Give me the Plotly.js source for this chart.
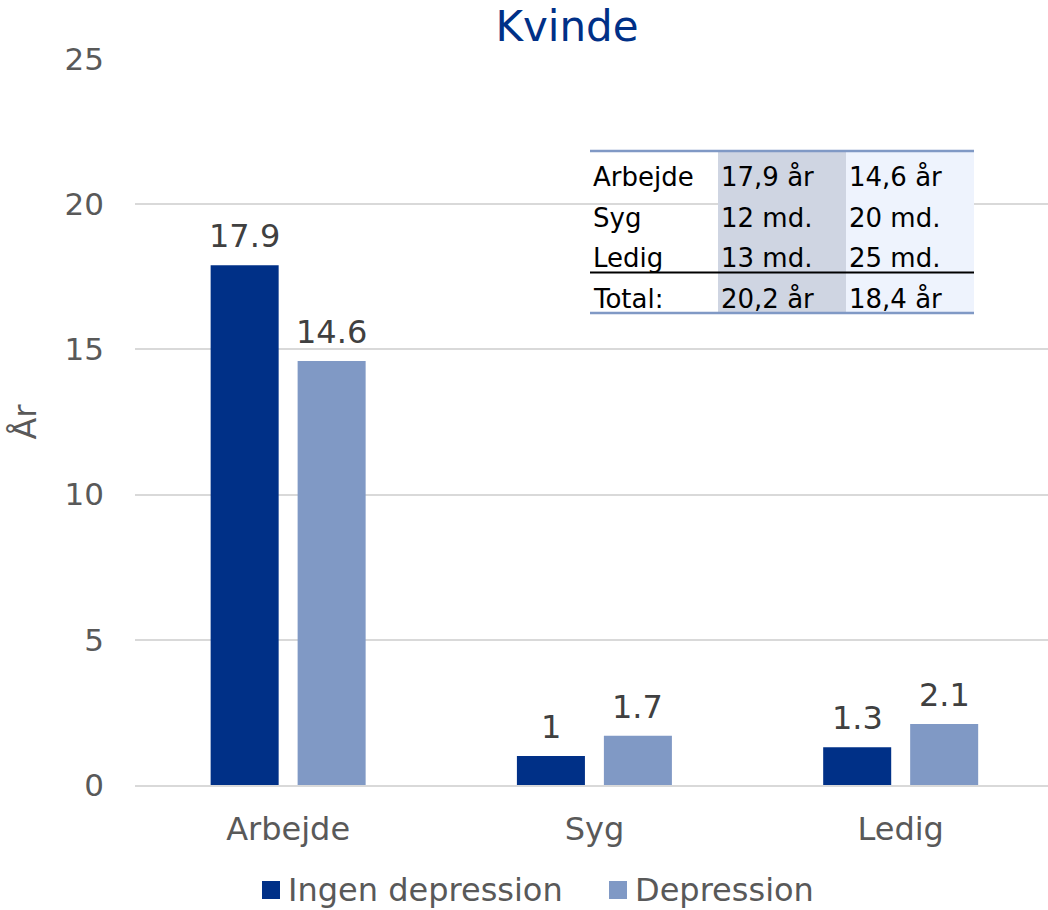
<!DOCTYPE html>
<html>
<head>
<meta charset="utf-8">
<script src="https://cdn.plot.ly/plotly-3.0.1.min.js"></script>
<style>
  body { margin: 0; background: #fff; }
  #chart { width: 1048px; height: 910px; }
</style>
</head>
<body>
<div id="chart"></div>
<script>
const categories = ['Arbejde', 'Syg', 'Ledig'];
const seriesNames = ['Ingen depression', 'Depression'];
const ingenDepression = [17.9, 1, 1.3];
const depression = [14.6, 1.7, 2.1];

// indsat tabel
const tableLabels = ['Arbejde', 'Syg', 'Ledig', 'Total:'];
const tableIngen = ['17,9 år', '12 md.', '13 md.', '20,2 år'];
const tableDepr = ['14,6 år', '20 md.', '25 md.', '18,4 år'];

const FONT = 'Verdana, "DejaVu Sans", sans-serif';
const COLORS = ['#003087', '#8099C5'];
const W = 1048, H = 910;
const M = { l: 135, r: 0, t: 59, b: 125 };

// pixel -> paper
const px = x => (x - M.l) / (W - M.l - M.r);
const py = y => (H - M.b - y) / (H - M.t - M.b);

const series = [ingenDepression, depression];

const data = series.map((vals, i) => ({
    x: categories,
    y: vals,
    name: seriesNames[i],
    type: 'bar',
    marker: { color: COLORS[i] },
    showlegend: false,
    hoverinfo: 'x+y'
}));

// datalabels over søjlerne
const annotations = [];
const barOffset = 43.5;
series.forEach((vals, i) => {
    vals.forEach((v, j) => {
        annotations.push({
            x: categories[j], y: v, xref: 'x', yref: 'y',
            xshift: i === 0 ? -barOffset : barOffset,
            yanchor: 'bottom', yshift: 8,
            text: String(v), showarrow: false,
            font: { family: FONT, size: 32, color: '#404040' }
        });
    });
});

// tabel: kolonner og rækker i pixels
const colX = [590, 718, 846, 974];
const rowY = [151, 191.5, 232, 272.5, 313];

const shapes = [
    { type: 'rect', xref: 'paper', yref: 'paper', x0: px(colX[1]), x1: px(colX[2]), y0: py(rowY[4]), y1: py(rowY[0]),
      fillcolor: '#CFD5E2', line: { width: 0 } },
    { type: 'rect', xref: 'paper', yref: 'paper', x0: px(colX[2]), x1: px(colX[3]), y0: py(rowY[4]), y1: py(rowY[0]),
      fillcolor: '#EEF3FD', line: { width: 0 } },
    { type: 'line', xref: 'paper', yref: 'paper', x0: px(colX[0]), x1: px(colX[3]), y0: py(rowY[0]), y1: py(rowY[0]),
      line: { color: '#8099C5', width: 2.5 } },
    { type: 'line', xref: 'paper', yref: 'paper', x0: px(colX[0]), x1: px(colX[3]), y0: py(rowY[3]), y1: py(rowY[3]),
      line: { color: '#000000', width: 2 } },
    { type: 'line', xref: 'paper', yref: 'paper', x0: px(colX[0]), x1: px(colX[3]), y0: py(rowY[4]), y1: py(rowY[4]),
      line: { color: '#8099C5', width: 2.5 } }
];

[tableLabels, tableIngen, tableDepr].forEach((col, c) => {
    col.forEach((txt, r) => {
        annotations.push({
            xref: 'paper', yref: 'paper',
            x: px(colX[c] + 1), y: py((rowY[r] + rowY[r + 1]) / 2 + 6),
            xanchor: 'left', yanchor: 'middle',
            text: txt, showarrow: false,
            font: { family: FONT, size: 26, color: '#000000' }
        });
    });
});

// egen forklaring (større firkanter end plotly's)
const legendX = [262, 609];
const legendY = 890;
seriesNames.forEach((name, i) => {
    shapes.push({
        type: 'rect', xref: 'paper', yref: 'paper',
        x0: px(legendX[i]), x1: px(legendX[i] + 18),
        y0: py(legendY + 9), y1: py(legendY - 9),
        fillcolor: COLORS[i], line: { width: 0 }
    });
    annotations.push({
        xref: 'paper', yref: 'paper',
        x: px(legendX[i] + 24), y: py(legendY),
        xanchor: 'left', yanchor: 'middle',
        text: name, showarrow: false,
        font: { family: FONT, size: 32, color: '#595959' }
    });
});

const layout = {
    width: W, height: H,
    margin: M,
    paper_bgcolor: '#ffffff',
    plot_bgcolor: '#ffffff',
    font: { family: FONT, color: '#595959', size: 30 },
    title: {
        text: 'Kvinde',
        font: { family: FONT, size: 42, color: '#003087' },
        x: 567 / W, xanchor: 'center',
        y: 1 - 26 / H, yanchor: 'middle'
    },
    barmode: 'group',
    bargap: 0.432,
    bargroupgap: 0.218,
    showlegend: false,
    xaxis: {
        range: [-0.5, 2.481],
        showline: true, linecolor: '#D9D9D9', linewidth: 1.5,
        ticks: '', showgrid: false,
        tickfont: { family: FONT, size: 32, color: '#595959' },
        ticklabelstandoff: 15
    },
    yaxis: {
        range: [0, 25], dtick: 5,
        showgrid: true, gridcolor: '#D9D9D9', gridwidth: 1.5,
        zeroline: false, showline: false, ticks: '',
        tickfont: { family: FONT, size: 31, color: '#595959' },
        ticklabelstandoff: 30,
        title: { text: 'År', font: { family: FONT, size: 32, color: '#595959' }, standoff: 18 }
    },
    shapes: shapes,
    annotations: annotations
};

Plotly.newPlot('chart', data, layout, { displayModeBar: false });
</script>
</body>
</html>
